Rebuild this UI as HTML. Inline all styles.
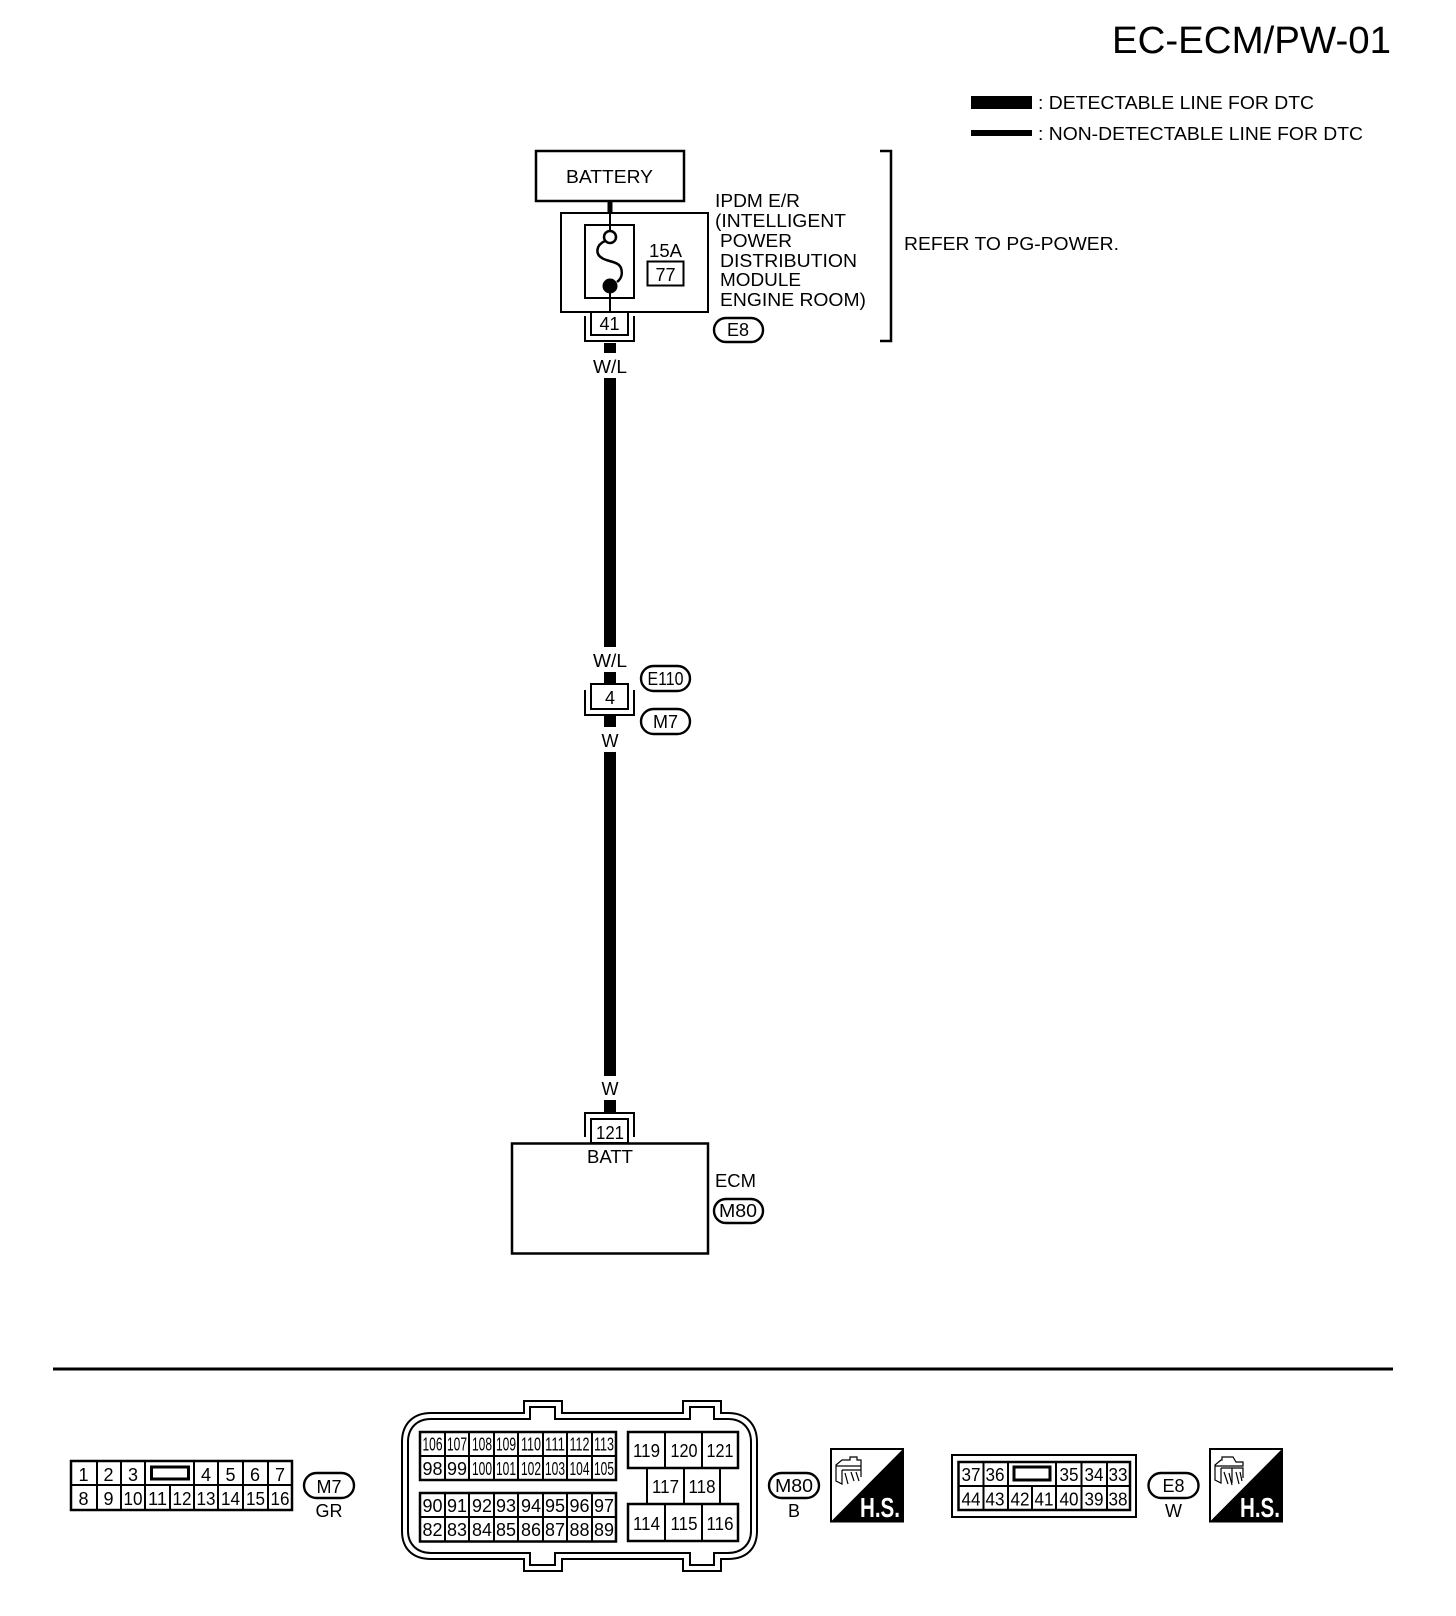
<!DOCTYPE html>
<html lang="en">
<head>
<meta charset="utf-8">
<title>EC-ECM/PW-01</title>
<style>
html,body{margin:0;padding:0;background:#fff;}
svg{display:block;}
text{font-family:"Liberation Sans",Arial,sans-serif;fill:#000;}
.t{font-size:18px;}
.m{text-anchor:middle;font-size:18px;}
.n{text-anchor:middle;font-size:18px;}
.s{text-anchor:middle;font-size:18px;}
.b{fill:none;stroke:#000;stroke-width:2.5;}
.l{fill:none;stroke:#000;stroke-width:2;}
.o{fill:#fff;stroke:#000;stroke-width:2.4;}
</style>
</head>
<body>
<svg width="1456" height="1616" viewBox="0 0 1456 1616" xmlns="http://www.w3.org/2000/svg">
<rect width="1456" height="1616" fill="#fff"/>

<!-- Title and legend -->
<text x="1112" y="53" font-size="38" textLength="279" lengthAdjust="spacingAndGlyphs">EC-ECM/PW-01</text>
<rect x="971" y="96" width="61" height="13" fill="#000"/>
<rect x="971" y="130" width="61" height="6" fill="#000"/>
<text class="t" x="1038" y="109" textLength="276" lengthAdjust="spacingAndGlyphs">: DETECTABLE LINE FOR DTC</text>
<text class="t" x="1038" y="140" textLength="325" lengthAdjust="spacingAndGlyphs">: NON-DETECTABLE LINE FOR DTC</text>

<!-- Wires -->
<rect x="607.5" y="201" width="5" height="12" fill="#000"/>
<rect x="604" y="343" width="12" height="10" fill="#000"/>
<rect x="604" y="378" width="12" height="269" fill="#000"/>
<rect x="604" y="672" width="12" height="12" fill="#000"/>
<rect x="604" y="715" width="12" height="12" fill="#000"/>
<rect x="604" y="752" width="12" height="324" fill="#000"/>
<rect x="604" y="1100" width="12" height="13" fill="#000"/>

<!-- Battery -->
<rect class="b" x="536" y="151" width="148" height="50"/>
<text class="t" x="566" y="183" textLength="87" lengthAdjust="spacingAndGlyphs">BATTERY</text>

<!-- IPDM -->
<rect class="l" x="561" y="213" width="147" height="99"/>
<rect class="l" x="585" y="225" width="49" height="73"/>
<path class="l" d="M610 213V231M610 290V312"/>
<circle cx="610" cy="237" r="6" fill="none" stroke="#000" stroke-width="2.5"/>
<circle cx="610" cy="286" r="7.5" fill="#000"/>
<path d="M605 241C596 245 595 254 602 258C608 262 618 261 621 268C623 274 621 279 617 282" fill="none" stroke="#000" stroke-width="2.5"/>
<text class="t" x="649" y="257" textLength="33" lengthAdjust="spacingAndGlyphs">15A</text>
<rect class="l" x="647.5" y="261.5" width="36" height="24"/>
<text class="n" x="665.5" y="281">77</text>
<text class="t" x="715" y="207" textLength="85" lengthAdjust="spacingAndGlyphs">IPDM E/R</text>
<text class="t" x="715" y="227" textLength="131" lengthAdjust="spacingAndGlyphs">(INTELLIGENT</text>
<text class="t" x="720" y="247" textLength="72" lengthAdjust="spacingAndGlyphs">POWER</text>
<text class="t" x="720" y="267" textLength="137" lengthAdjust="spacingAndGlyphs">DISTRIBUTION</text>
<text class="t" x="720" y="286" textLength="81" lengthAdjust="spacingAndGlyphs">MODULE</text>
<text class="t" x="720" y="306" textLength="146" lengthAdjust="spacingAndGlyphs">ENGINE ROOM)</text>
<rect class="o" x="714" y="318" width="49" height="24" rx="12"/>
<text class="m" x="738" y="336">E8</text>

<!-- Connector 41 -->
<rect class="l" x="591" y="312" width="37" height="23"/>
<path class="l" d="M585 316V341H634V316"/>
<text class="n" x="609.5" y="330">41</text>
<text class="m" x="610" y="373" textLength="34" lengthAdjust="spacingAndGlyphs">W/L</text>

<!-- Bracket and note -->
<path class="b" d="M880 151H891V341H880"/>
<text class="t" x="904" y="250" textLength="215" lengthAdjust="spacingAndGlyphs">REFER TO PG-POWER.</text>

<!-- Connector 4 -->
<text class="m" x="610" y="667" textLength="34" lengthAdjust="spacingAndGlyphs">W/L</text>
<rect x="591" y="684" width="37" height="25" fill="#fff" stroke="#000" stroke-width="2"/>
<path class="l" d="M585 690V715H634V690"/>
<text class="n" x="610" y="704">4</text>
<rect class="o" x="641" y="666" width="49" height="25" rx="12.5"/>
<text class="m" x="665.500" y="685" textLength="36" lengthAdjust="spacingAndGlyphs">E110</text>
<rect class="o" x="641" y="709" width="49" height="25" rx="12.5"/>
<text class="m" x="665.500" y="728">M7</text>
<text class="m" x="610" y="747">W</text>
<text class="m" x="610" y="1095">W</text>

<!-- Connector 121 -->
<path class="l" d="M585 1137V1113H634V1137"/>
<rect class="l" x="591" y="1119" width="37" height="24"/>
<text class="n" x="610" y="1139" textLength="28" lengthAdjust="spacingAndGlyphs">121</text>

<!-- ECM -->
<rect class="b" x="512" y="1143.5" width="196" height="110"/>
<text class="m" x="610" y="1163" textLength="46" lengthAdjust="spacingAndGlyphs">BATT</text>
<text class="t" x="715" y="1187" textLength="41" lengthAdjust="spacingAndGlyphs">ECM</text>
<rect class="o" x="714" y="1199" width="49" height="24" rx="12"/>
<text class="m" x="738" y="1217" textLength="38" lengthAdjust="spacingAndGlyphs">M80</text>

<!-- Rule -->
<rect x="53" y="1367.5" width="1340" height="3" fill="#000"/>

<!-- M7 connector -->
<rect class="b" x="71" y="1461" width="221" height="49"/>
<path class="l" d="M71 1485H292M97 1461V1510M121 1461V1510M145 1461V1510M170 1485V1510M194 1461V1510M218 1461V1510M243 1461V1510M268 1461V1510"/>
<rect x="151.5" y="1467" width="37" height="12" fill="none" stroke="#000" stroke-width="3"/>
<text class="n" x="83.500" y="1481">1</text>
<text class="n" x="108.500" y="1481">2</text>
<text class="n" x="133" y="1481">3</text>
<text class="n" x="206" y="1481">4</text>
<text class="n" x="230.500" y="1481">5</text>
<text class="n" x="255" y="1481">6</text>
<text class="n" x="280" y="1481">7</text>
<text class="n" x="83.500" y="1505">8</text>
<text class="n" x="108.500" y="1505">9</text>
<text class="n" x="133" y="1505" textLength="19" lengthAdjust="spacingAndGlyphs">10</text>
<text class="n" x="157.500" y="1505" textLength="19" lengthAdjust="spacingAndGlyphs">11</text>
<text class="n" x="182" y="1505" textLength="19" lengthAdjust="spacingAndGlyphs">12</text>
<text class="n" x="206" y="1505" textLength="19" lengthAdjust="spacingAndGlyphs">13</text>
<text class="n" x="230.500" y="1505" textLength="19" lengthAdjust="spacingAndGlyphs">14</text>
<text class="n" x="255.500" y="1505" textLength="19" lengthAdjust="spacingAndGlyphs">15</text>
<text class="n" x="280" y="1505" textLength="19" lengthAdjust="spacingAndGlyphs">16</text>
<rect class="o" x="304" y="1473" width="50" height="25" rx="12.5"/>
<text class="m" x="329" y="1493">M7</text>
<text class="m" x="329" y="1517">GR</text>

<!-- M80 connector -->
<path class="l" d="M432 1413H524V1401H562V1413H683V1401H721V1413H728C746 1413 757 1424 757 1442V1531C757 1549 746 1559 728 1559H721V1571H683V1559H562V1571H524V1559H431C413 1559 402 1549 402 1531V1442C402 1424 413 1413 431 1413Z"/>
<path class="l" d="M431 1419H530V1407H555V1419H690V1407H714V1419H728C742 1419 751 1428 751 1442V1531C751 1544 742 1553 728 1553H714V1565H690V1553H555V1565H530V1553H431C417 1553 408 1544 408 1531V1442C408 1428 417 1419 431 1419Z"/>
<rect class="b" x="420" y="1432" width="196" height="48"/>
<rect class="b" x="420" y="1493" width="196" height="48.500"/>
<path class="l" d="M420 1456H616M445 1432V1480M469 1432V1480M494 1432V1480M518 1432V1480M543 1432V1480M567 1432V1480M592 1432V1480M420 1517H616M445 1493V1541M469 1493V1541M494 1493V1541M518 1493V1541M543 1493V1541M567 1493V1541M592 1493V1541"/>
<rect class="b" x="628" y="1432" width="110" height="36"/>
<rect class="b" x="628" y="1504" width="110" height="37"/>
<path class="l" d="M665 1432V1468M702 1432V1468M665 1504V1541M702 1504V1541M647 1468V1504M684 1468V1504M720 1468V1504"/>

<text class="s" x="432.500" y="1450.500" textLength="20" lengthAdjust="spacingAndGlyphs">106</text>
<text class="s" x="457" y="1450.500" textLength="20" lengthAdjust="spacingAndGlyphs">107</text>
<text class="s" x="482" y="1450.500" textLength="20" lengthAdjust="spacingAndGlyphs">108</text>
<text class="s" x="506" y="1450.500" textLength="20" lengthAdjust="spacingAndGlyphs">109</text>
<text class="s" x="531" y="1450.500" textLength="20" lengthAdjust="spacingAndGlyphs">110</text>
<text class="s" x="555" y="1450.500" textLength="20" lengthAdjust="spacingAndGlyphs">111</text>
<text class="s" x="579.500" y="1450.500" textLength="20" lengthAdjust="spacingAndGlyphs">112</text>
<text class="s" x="604" y="1450.500" textLength="20" lengthAdjust="spacingAndGlyphs">113</text>
<text class="s" x="432.500" y="1475" textLength="20" lengthAdjust="spacingAndGlyphs">98</text>
<text class="s" x="457" y="1475" textLength="20" lengthAdjust="spacingAndGlyphs">99</text>
<text class="s" x="482" y="1475" textLength="20" lengthAdjust="spacingAndGlyphs">100</text>
<text class="s" x="506" y="1475" textLength="20" lengthAdjust="spacingAndGlyphs">101</text>
<text class="s" x="531" y="1475" textLength="20" lengthAdjust="spacingAndGlyphs">102</text>
<text class="s" x="555" y="1475" textLength="20" lengthAdjust="spacingAndGlyphs">103</text>
<text class="s" x="579.500" y="1475" textLength="20" lengthAdjust="spacingAndGlyphs">104</text>
<text class="s" x="604" y="1475" textLength="20" lengthAdjust="spacingAndGlyphs">105</text>
<text class="s" x="432.500" y="1512" textLength="20" lengthAdjust="spacingAndGlyphs">90</text>
<text class="s" x="457" y="1512" textLength="20" lengthAdjust="spacingAndGlyphs">91</text>
<text class="s" x="482" y="1512" textLength="20" lengthAdjust="spacingAndGlyphs">92</text>
<text class="s" x="506" y="1512" textLength="20" lengthAdjust="spacingAndGlyphs">93</text>
<text class="s" x="531" y="1512" textLength="20" lengthAdjust="spacingAndGlyphs">94</text>
<text class="s" x="555" y="1512" textLength="20" lengthAdjust="spacingAndGlyphs">95</text>
<text class="s" x="579.500" y="1512" textLength="20" lengthAdjust="spacingAndGlyphs">96</text>
<text class="s" x="604" y="1512" textLength="20" lengthAdjust="spacingAndGlyphs">97</text>
<text class="s" x="432.500" y="1536" textLength="20" lengthAdjust="spacingAndGlyphs">82</text>
<text class="s" x="457" y="1536" textLength="20" lengthAdjust="spacingAndGlyphs">83</text>
<text class="s" x="482" y="1536" textLength="20" lengthAdjust="spacingAndGlyphs">84</text>
<text class="s" x="506" y="1536" textLength="20" lengthAdjust="spacingAndGlyphs">85</text>
<text class="s" x="531" y="1536" textLength="20" lengthAdjust="spacingAndGlyphs">86</text>
<text class="s" x="555" y="1536" textLength="20" lengthAdjust="spacingAndGlyphs">87</text>
<text class="s" x="579.500" y="1536" textLength="20" lengthAdjust="spacingAndGlyphs">88</text>
<text class="s" x="604" y="1536" textLength="20" lengthAdjust="spacingAndGlyphs">89</text>

<text class="n" x="646.500" y="1457" textLength="27" lengthAdjust="spacingAndGlyphs">119</text>
<text class="n" x="684" y="1457" textLength="27" lengthAdjust="spacingAndGlyphs">120</text>
<text class="n" x="720" y="1457" textLength="27" lengthAdjust="spacingAndGlyphs">121</text>
<text class="n" x="665.500" y="1493" textLength="27" lengthAdjust="spacingAndGlyphs">117</text>
<text class="n" x="702" y="1493" textLength="27" lengthAdjust="spacingAndGlyphs">118</text>
<text class="n" x="646.500" y="1530" textLength="27" lengthAdjust="spacingAndGlyphs">114</text>
<text class="n" x="684" y="1530" textLength="27" lengthAdjust="spacingAndGlyphs">115</text>
<text class="n" x="720" y="1530" textLength="27" lengthAdjust="spacingAndGlyphs">116</text>

<rect class="o" x="769" y="1473" width="50" height="25" rx="12.5"/>
<text class="m" x="794" y="1492" textLength="38" lengthAdjust="spacingAndGlyphs">M80</text>
<text class="m" x="794" y="1517">B</text>

<!-- HS icon 1 -->
<rect x="831" y="1449" width="72" height="72.500" fill="#fff" stroke="#000" stroke-width="2"/>
<path d="M903 1449V1521.500H831Z" fill="#000"/>
<path d="M836 1465L842 1460H850V1457H857V1460H861V1466H836ZM836 1465V1481L842 1484V1470M842 1470H861V1466M861 1470V1477" fill="#fff" stroke="#000" stroke-width="1.200"/>
<path d="M845 1473L848 1484M851 1472L854 1481M856 1472L859 1481" fill="none" stroke="#000" stroke-width="1.200"/>
<text x="860" y="1517" font-size="28" font-weight="700" style="fill:#fff" textLength="40" lengthAdjust="spacingAndGlyphs">H.S.</text>

<!-- E8 connector -->
<rect class="l" x="952" y="1455" width="184" height="62"/>
<rect class="b" x="958.500" y="1462" width="171.500" height="48"/>
<path class="l" d="M959 1486H1130M983.500 1462V1510M1008 1462V1510M1056 1462V1510M1081.500 1462V1510M1107 1462V1510M1032 1486V1510"/>
<rect x="1014" y="1467" width="36" height="13" fill="none" stroke="#000" stroke-width="3"/>
<text class="s" x="971" y="1481" textLength="19" lengthAdjust="spacingAndGlyphs">37</text>
<text class="s" x="995" y="1481" textLength="19" lengthAdjust="spacingAndGlyphs">36</text>
<text class="s" x="1069" y="1481" textLength="19" lengthAdjust="spacingAndGlyphs">35</text>
<text class="s" x="1094" y="1481" textLength="19" lengthAdjust="spacingAndGlyphs">34</text>
<text class="s" x="1118" y="1481" textLength="19" lengthAdjust="spacingAndGlyphs">33</text>
<text class="s" x="971" y="1505.500" textLength="19" lengthAdjust="spacingAndGlyphs">44</text>
<text class="s" x="995" y="1505.500" textLength="19" lengthAdjust="spacingAndGlyphs">43</text>
<text class="s" x="1020" y="1505.500" textLength="19" lengthAdjust="spacingAndGlyphs">42</text>
<text class="s" x="1044" y="1505.500" textLength="19" lengthAdjust="spacingAndGlyphs">41</text>
<text class="s" x="1069" y="1505.500" textLength="19" lengthAdjust="spacingAndGlyphs">40</text>
<text class="s" x="1094" y="1505.500" textLength="19" lengthAdjust="spacingAndGlyphs">39</text>
<text class="s" x="1118" y="1505.500" textLength="19" lengthAdjust="spacingAndGlyphs">38</text>
<rect class="o" x="1148.500" y="1473" width="50" height="25" rx="12.5"/>
<text class="m" x="1173.500" y="1492">E8</text>
<text class="m" x="1173.500" y="1517">W</text>

<!-- HS icon 2 -->
<rect x="1210" y="1449" width="72" height="72.500" fill="#fff" stroke="#000" stroke-width="2"/>
<path d="M1282 1449V1521.500H1210Z" fill="#000"/>
<path d="M1215 1465L1221 1460H1222V1457H1233L1236 1462H1243V1466H1215ZM1215 1465V1480L1221 1483V1468M1221 1468H1243V1478M1232 1468V1483" fill="#fff" stroke="#000" stroke-width="1.200"/>
<path d="M1224 1472L1228 1484M1229 1473L1232 1485M1236 1472L1239 1484M1240 1472L1242 1481" fill="none" stroke="#000" stroke-width="1.200"/>
<text x="1240" y="1517" font-size="28" font-weight="700" style="fill:#fff" textLength="40" lengthAdjust="spacingAndGlyphs">H.S.</text>
</svg>
</body>
</html>
